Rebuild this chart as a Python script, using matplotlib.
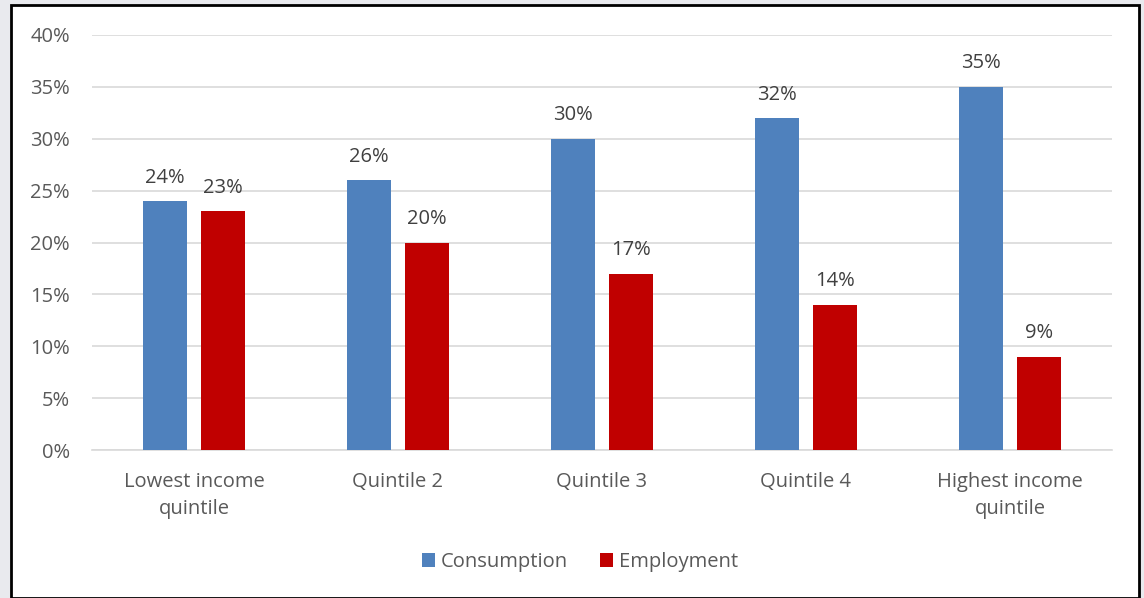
import matplotlib.pyplot as plt
import numpy as np
from matplotlib.patches import Rectangle

categories = ["Lowest income\nquintile", "Quintile 2", "Quintile 3", "Quintile 4", "Highest income\nquintile"]
consumption = [24, 26, 30, 32, 35]
employment = [23, 20, 17, 14, 9]
yticks = [0, 5, 10, 15, 20, 25, 30, 35, 40]

blue = "#4F81BD"
red = "#C00000"
text_gray = "#595959"

plt.rcParams["font.family"] = ["Open Sans", "DejaVu Sans"]
fs = 14.5

W, H = 1144, 598
fig = plt.figure(figsize=(W / 100, H / 100), dpi=100)
fig.patch.set_facecolor("#E9EAEE")

# white chart area with black frame
fig.patches.append(Rectangle((11 / W, 0), 1128 / W, (H - 5) / H, transform=fig.transFigure,
                             facecolor="white", edgecolor="black", linewidth=2, zorder=-1))

ax = fig.add_axes([92 / W, (H - 450) / H, 1020 / W, 415 / H])
ax.set_facecolor("none")

x = np.arange(len(categories))
width = 0.22
off = 0.142
b1 = ax.bar(x - off, consumption, width, color=blue, label="Consumption", zorder=3)
b2 = ax.bar(x + off, employment, width, color=red, label="Employment", zorder=3)

for bars, vals in [(b1, consumption), (b2, employment)]:
    for rect, v in zip(bars, vals):
        ax.text(rect.get_x() + rect.get_width() / 2, v + 1.3, f"{v}%", ha="center", va="bottom",
                fontsize=fs, color="#404040")

ax.set_xlim(-0.5, len(categories) - 0.5)
ax.set_ylim(0, 40)
ax.set_yticks(yticks, labels=[f"{t}%" for t in yticks])
ax.set_xticks(x, labels=categories, linespacing=1.45)
ax.grid(axis="y", color="#D9D9D9", linewidth=1.2, zorder=0)
for s in ["top", "right", "left"]:
    ax.spines[s].set_visible(False)
ax.spines["bottom"].set_color("#D9D9D9")
ax.spines["bottom"].set_linewidth(1.2)
ax.tick_params(axis="both", length=0, labelsize=fs, labelcolor=text_gray)
ax.tick_params(axis="y", pad=16)
ax.tick_params(axis="x", pad=16)

fig.legend(handles=[b1, b2], loc="center", bbox_to_anchor=(580 / W, (H - 562) / H), ncol=2,
           frameon=False, fontsize=fs, labelcolor=text_gray, handlelength=0.65, handleheight=0.65,
           handletextpad=0.3, columnspacing=1.6)

fig.savefig("out.png", dpi=100)
